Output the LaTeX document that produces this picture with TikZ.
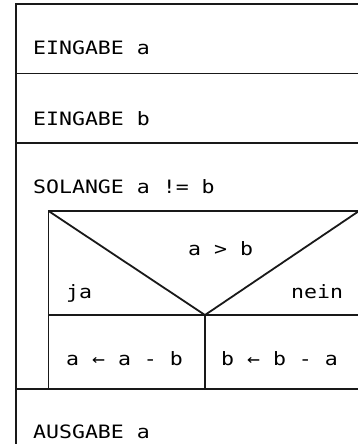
\documentclass[tikz,border=0pt]{standalone}
\usepackage{fontspec}
\newfontfamily\monof[FakeStretch=1.17]{DejaVu Sans Mono}
\begin{document}
\begin{tikzpicture}[x=1pt,y=-1pt,
  ln/.style={draw=black!90, line width=1.8pt},
  txt/.style={anchor=base west, inner sep=0pt, font=\monof\fontsize{18.4}{20}\selectfont}]
\useasboundingbox (0,0) rectangle (358,444);
% coordinates
\coordinate (tl) at (16,4);
\coordinate (tr) at (359,4);
\coordinate (bl) at (16,444);
\coordinate (r1l) at (16,73.5);
\coordinate (r1r) at (359,73.5);
\coordinate (r2l) at (16,143.3);
\coordinate (r2r) at (359,143.3);
\coordinate (il) at (48.5,211);
\coordinate (ir) at (359,211);
\coordinate (apex) at (205,315);
\coordinate (sl) at (48.5,315);
\coordinate (sr) at (359,315);
\coordinate (ib) at (48.5,389);
\coordinate (b3l) at (16,389);
\coordinate (b3r) at (359,389);
\coordinate (vb) at (205,389);
% frame
\draw[ln] (tr) -- (tl) -- (bl);
\draw[ln] (r1l) -- (r1r);
\draw[ln] (r2l) -- (r2r);
\draw[ln] (ir) -- (il) -- (ib);
\draw[ln] (il) -- (apex) -- (ir);
\draw[ln] (sl) -- (sr);
\draw[ln] (apex) -- (vb);
\draw[ln] (b3l) -- (b3r);
% texts
\node[txt] (e1) at (33,55) {EINGABE a};
\node[txt] (e2) at (33,125) {EINGABE b};
\node[txt] (loop) at (33,193) {SOLANGE a != b};
\node[txt] (cond) at (188,255) {a > b};
\node[txt] (ja) at (66,298.5) {ja};
\node[txt] (nein) at (291,298.5) {nein};
\node[txt] (s1) at (66,365) {a ← a - b};
\node[txt] (s2) at (221,365) {b ← b - a};
\node[txt] (out) at (33,438) {AUSGABE a};
\end{tikzpicture}
\end{document}
